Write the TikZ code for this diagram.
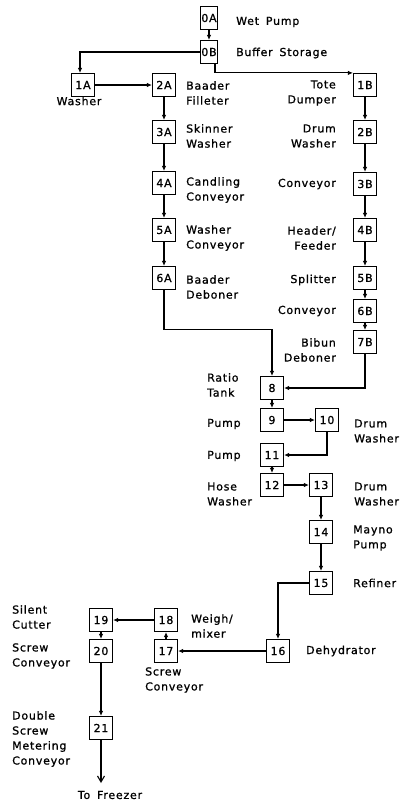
\documentclass[tikz,border=0pt]{standalone}
\usepackage{fontspec}
\newfontfamily\lettering[LetterSpace=7,WordSpace=1.6,FakeBold=1]{DejaVu Sans}
\usepackage{tikz}
\usetikzlibrary{arrows.meta,positioning,calc}
\tikzset{
  unit/.style={draw, line width=1.2pt, minimum width=23pt, minimum height=23pt, inner sep=0pt, font=\lettering\fontsize{11}{15}\selectfont},
  lbl/.style={inner sep=0pt, align=left, anchor=west, font=\lettering\fontsize{11}{15}\selectfont},
  lblr/.style={inner sep=0pt, align=right, anchor=east, font=\lettering\fontsize{11}{15}\selectfont},
  arr/.style={-{Latex[length=5pt,width=4.5pt]}, line width=1.1pt},
  arrout/.style={-{Straight Barb[length=6pt,width=7pt]}, line width=1.1pt},
}
\begin{document}
\begin{tikzpicture}[x=1pt,y=-1pt]
  \useasboundingbox (0,0) rectangle (401,801);
  % process units
  \node[unit, minimum width=17pt] (u0A) at (209,18) {0A};
  \node[unit, minimum width=17pt] (u0B) at (209,52) {0B};
  \foreach \n/\x/\y in {1A/83/85, 2A/164/85, 3A/164/132, 4A/164/183, 5A/164/230, 6A/164/278,
                        1B/365/85, 2B/365/132, 3B/365/184, 4B/365/230, 5B/365/278, 6B/365/311, 7B/365/342,
                        8/272/388, 9/272/420, 10/327/420, 11/272/455, 12/272/485, 13/321/485,
                        14/321/532, 15/321/583, 16/278/651, 17/166/651, 18/166/620,
                        19/101/620, 20/101/651, 21/101/728}
    \node[unit] (u\n) at (\x,\y) {\n};
  \coordinate (freezer) at (101,783);

  % labels
  \node[lbl] (tWet) at (236,22) {Wet Pump};
  \node[lbl] (tBuffer) at (236,53) {Buffer Storage};
  \node[inner sep=0pt, font=\lettering\fontsize{11}{15}\selectfont] (tWasher) at (79,101) {Washer};
  \node[lbl] (tBaaderF) at (186,93) {Baader\\Filleter};
  \node[lbl] (tSkinner) at (186,136) {Skinner\\Washer};
  \node[lbl] (tCandling) at (186,190) {Candling\\Conveyor};
  \node[lbl] (tWasherC) at (186,238) {Washer\\Conveyor};
  \node[lbl] (tBaaderD) at (186,287) {Baader\\Deboner};
  \node[lblr] (tTote) at (336,93) {Tote\\Dumper};
  \node[lblr] (tDrumA) at (336,136) {Drum\\Washer};
  \node[lblr] (tConvA) at (336,184) {Conveyor};
  \node[lblr] (tHeader) at (336,238) {Header/\\Feeder};
  \node[lblr] (tSplitter) at (336,280) {Splitter};
  \node[lblr] (tConvB) at (336,311) {Conveyor};
  \node[lblr] (tBibun) at (336,350) {Bibun\\Deboner};
  \node[lbl] (tRatio) at (207,385) {Ratio\\Tank};
  \node[lbl] (tPumpA) at (207,424) {Pump};
  \node[lbl] (tDrumB) at (354,431) {Drum\\Washer};
  \node[lbl] (tPumpB) at (207,456) {Pump};
  \node[lbl] (tHose) at (207,494) {Hose\\Washer};
  \node[lbl] (tDrumC) at (354,494) {Drum\\Washer};
  \node[lbl] (tMayno) at (353,538) {Mayno\\Pump};
  \node[lbl] (tRefiner) at (353,583) {Refiner};
  \node[lbl] (tWeigh) at (191,626) {Weigh/\\mixer};
  \node[lbl] (tSilent) at (12,617) {Silent\\Cutter};
  \node[lbl] (tDehyd) at (306,651) {Dehydrator};
  \node[lbl] (tScrewB) at (12,656) {Screw\\Conveyor};
  \node[lbl] (tScrewA) at (145,680) {Screw\\Conveyor};
  \node[lbl] (tDouble) at (12,739) {Double\\Screw\\Metering\\Conveyor};
  \node[inner sep=0pt, font=\lettering\fontsize{11}{15}\selectfont] (tFreezer) at (110,795) {To Freezer};

  % flow
  \foreach \a/\b in {0A/0B, 1A/2A, 2A/3A, 3A/4A, 4A/5A, 5A/6A,
                     1B/2B, 2B/3B, 3B/4B, 4B/5B, 5B/6B, 6B/7B,
                     8/9, 9/10, 11/12, 12/13, 13/14, 14/15,
                     16/17, 17/18, 18/19, 19/20, 20/21}
    \draw[arr] (u\a) -- (u\b);
  \draw[arr] (u0B.west) -| ([xshift=-3pt]u1A.north);
  \draw[arr] ([xshift=6pt]u0B.south) |- (u1B.north west);
  \draw[arr] (u6A.south) -- ++(0,39) -| (u8.north);
  \draw[arr] (u7B.south) |- (u8.east);
  \draw[arr] (u10.south) |- (u11.east);
  \draw[arr] (u15.west) -| (u16.north);
  \draw[arrout] (u21.south) -- (freezer);
\end{tikzpicture}
\end{document}
